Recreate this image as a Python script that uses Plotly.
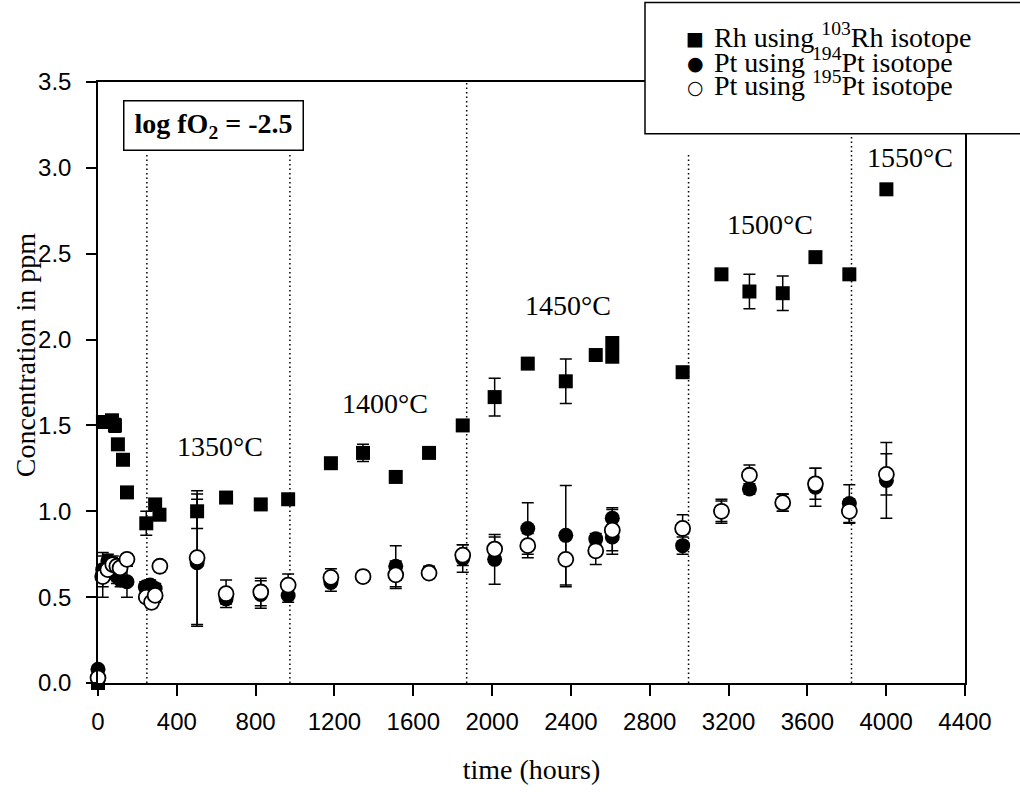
import plotly.graph_objects as go

# ---------------- data ----------------
rh_hours = [0, 25, 71, 86, 101, 127, 147, 245, 290, 312, 503, 650, 826, 965,
            1182, 1345, 1511, 1680, 1851, 2013, 2181, 2374, 2526, 2610, 2610,
            2967, 3164, 3306, 3475, 3641, 3813, 4001]
rh_ppm = [0.00, 1.52, 1.53, 1.50, 1.39, 1.30, 1.11, 0.93, 1.04, 0.98, 1.00, 1.08, 1.04, 1.07,
          1.28, 1.34, 1.20, 1.34, 1.50, 1.665, 1.86, 1.757, 1.91, 1.90, 1.98,
          1.81, 2.38, 2.28, 2.27, 2.48, 2.38, 2.875]
rh_err = [0.0, 0.02, 0.02, 0.04, 0.02, 0.02, 0.03, 0.07, 0.02, 0.02, 0.10, 0.0, 0.0, 0.0,
          0.0, 0.05, 0.0, 0.0, 0.0, 0.11, 0.0, 0.13, 0.0, 0.0, 0.0,
          0.0, 0.0, 0.10, 0.10, 0.0, 0.0, 0.03]

pt194_hours = [0, 24, 50, 71, 96, 115, 147, 240, 265, 290, 503, 650, 826, 965,
               1182, 1345, 1511, 1680, 1851, 2013, 2181, 2374, 2526, 2610, 2610,
               2967, 3164, 3306, 3475, 3641, 3813, 4001]
pt194_ppm = [0.08, 0.66, 0.71, 0.69, 0.62, 0.60, 0.59, 0.56, 0.57, 0.55, 0.70, 0.49, 0.515, 0.51,
             0.585, 0.62, 0.68, 0.65, 0.725, 0.72, 0.90, 0.86, 0.84, 0.96, 0.85,
             0.80, 1.00, 1.13, 1.05, 1.14, 1.045, 1.18]
pt194_err = [0.02, 0.10, 0.04, 0.04, 0.04, 0.04, 0.09, 0.03, 0.03, 0.03, 0.37, 0.03, 0.08, 0.04,
             0.05, 0.0, 0.12, 0.03, 0.08, 0.145, 0.15, 0.29, 0.03, 0.06, 0.10,
             0.05, 0.06, 0.03, 0.05, 0.11, 0.11, 0.22]

pt195_hours = [0, 24, 50, 75, 96, 112, 147, 245, 272, 290, 314, 503, 650, 826, 965,
               1182, 1345, 1511, 1680, 1851, 2013, 2181, 2374, 2526, 2610,
               2967, 3164, 3306, 3475, 3641, 3813, 4001]
pt195_ppm = [0.03, 0.62, 0.66, 0.69, 0.68, 0.67, 0.72, 0.50, 0.47, 0.51, 0.68, 0.73, 0.52, 0.53, 0.57,
             0.615, 0.62, 0.63, 0.64, 0.745, 0.78, 0.80, 0.72, 0.77, 0.89,
             0.90, 1.00, 1.21, 1.05, 1.16, 1.00, 1.215]
pt195_err = [0.0, 0.12, 0.05, 0.05, 0.03, 0.03, 0.03, 0.03, 0.03, 0.04, 0.03, 0.39, 0.08, 0.08, 0.065,
             0.05, 0.0, 0.08, 0.02, 0.06, 0.07, 0.07, 0.16, 0.08, 0.12,
             0.08, 0.07, 0.06, 0.05, 0.09, 0.07, 0.12]

# temperature step boundaries (hours) and labels
step_hours = [248, 974, 1871, 2997, 3824]
step_tops = [3.09, 3.09, 3.5, 3.08, 3.18]
temp_labels = ["1350°C", "1400°C", "1450°C", "1500°C", "1550°C"]
temp_x = [619, 1455, 2386, 3410, 4122]
temp_y = [1.38, 1.63, 2.20, 2.67, 3.06]

legend_names = ["Rh using <sup>103</sup>Rh isotope",
                "Pt using <sup>194</sup>Pt isotope",
                "Pt using <sup>195</sup>Pt isotope"]
legend_glyphs = ["■", "●", "○"]

x_ticks = list(range(0, 4401, 400))
y_ticks = [0.0, 0.5, 1.0, 1.5, 2.0, 2.5, 3.0, 3.5]

SERIF = "Liberation Serif, Times New Roman, serif"
SANS = "Liberation Sans, Arial, sans-serif"
NARROW = "Liberation Sans Narrow, Arial Narrow, Liberation Sans, sans-serif"

fig = go.Figure()

def err(vals):
    return dict(type="data", array=vals, visible=True, color="black",
                thickness=1.5, width=6)

fig.add_trace(go.Scatter(
    x=rh_hours, y=rh_ppm, mode="markers", name="Rh",
    error_y=err(rh_err), cliponaxis=False,
    marker=dict(symbol="square", size=14, color="black",
                line=dict(color="black", width=0))))
fig.add_trace(go.Scatter(
    x=pt194_hours, y=pt194_ppm, mode="markers", name="Pt194",
    error_y=err(pt194_err), cliponaxis=False,
    marker=dict(symbol="circle", size=15, color="black",
                line=dict(color="black", width=0))))
fig.add_trace(go.Scatter(
    x=pt195_hours, y=pt195_ppm, mode="markers", name="Pt195",
    error_y=err(pt195_err), cliponaxis=False,
    marker=dict(symbol="circle", size=15, color="white",
                line=dict(color="black", width=1.8))))

shapes = []
for h, top in zip(step_hours, step_tops):
    shapes.append(dict(type="line", xref="x", yref="y", x0=h, x1=h, y0=0, y1=top,
                       line=dict(color="black", width=1.5, dash="1.5px,3px"),
                       layer="below"))

# pixel -> paper helpers for the plot area (98..965 x, 82..687 y)
L, W, T, H = 98, 867, 82, 605
def px_x(p):
    return (p - L) / W
def px_y(p):
    return (T + H - p) / H

# legend box
shapes.append(dict(type="rect", xref="paper", yref="paper",
                   x0=px_x(645), x1=px_x(1040), y0=px_y(134), y1=px_y(2),
                   line=dict(color="black", width=1.5), fillcolor="white",
                   layer="above"))

annotations = []
for lab, tx, ty in zip(temp_labels, temp_x, temp_y):
    annotations.append(dict(x=tx, y=ty, xref="x", yref="y", text=lab,
                            showarrow=False, xanchor="center", yanchor="middle",
                            font=dict(family=SERIF, size=28, color="black")))

annotations.append(dict(x=px_x(213), y=px_y(126), xref="paper", yref="paper",
                        text="<b>log fO<sub>2</sub> = -2.5</b>", showarrow=False,
                        xanchor="center", yanchor="middle",
                        font=dict(family=SERIF, size=28, color="black"),
                        bordercolor="black", borderwidth=1.5, bgcolor="white",
                        borderpad=3, width=172, height=42))

# y-axis title
annotations.append(dict(x=px_x(25), y=px_y(357), xref="paper", yref="paper",
                        text="Concentration in ppm", showarrow=False, textangle=-90,
                        xanchor="center", yanchor="middle",
                        font=dict(family=SERIF, size=28, color="black")))

row_y = [38, 63, 87]
for glyph, name, ry in zip(legend_glyphs, legend_names, row_y):
    annotations.append(dict(x=px_x(695), y=px_y(ry), xref="paper", yref="paper",
                            text=glyph, showarrow=False, xanchor="center", yanchor="middle",
                            font=dict(family="DejaVu Sans", size=19, color="black")))
    annotations.append(dict(x=px_x(712), y=px_y(ry - 3), xref="paper", yref="paper",
                            text=name, showarrow=False, xanchor="left", yanchor="middle",
                            font=dict(family=SERIF, size=28, color="black")))

fig.update_layout(
    width=1020, height=792,
    margin=dict(l=98, r=55, t=82, b=105),
    paper_bgcolor="white", plot_bgcolor="white",
    showlegend=False,
    shapes=shapes, annotations=annotations,
    xaxis=dict(range=[0, 4400], tickvals=x_ticks, ticks="outside", ticklen=11,
               tickwidth=1.5, tickcolor="black", showline=True, linecolor="black",
               linewidth=1.5, mirror=True, showgrid=False, zeroline=False,
               ticklabelstandoff=5,
               tickfont=dict(family=NARROW, size=24, color="black"),
               title=dict(text="time (hours)", standoff=26,
                          font=dict(family=SERIF, size=28, color="black"))),
    yaxis=dict(range=[0, 3.5], tickvals=y_ticks, tickformat=".1f", ticks="outside",
               ticklen=10, tickwidth=1.5, tickcolor="black", showline=True,
               linecolor="black", linewidth=1.5, mirror=True, showgrid=False,
               zeroline=False, ticklabelstandoff=10,
               tickfont=dict(family=SANS, size=24, color="black")),
)

fig.write_html("out.html")
